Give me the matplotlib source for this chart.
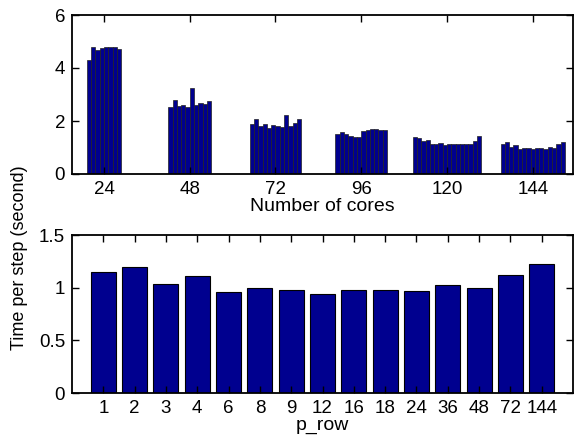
import matplotlib
matplotlib.use("Agg")
import matplotlib.pyplot as plt
import numpy as np

plt.rcParams['font.family'] = ['Liberation Sans', 'DejaVu Sans']

# time per step for every p_row choice, grouped by number of cores
cores = [24, 48, 72, 96, 120, 144]
times_by_cores = [
    [4.30, 4.78, 4.68, 4.76, 4.78, 4.78, 4.78, 4.73],
    [2.51, 2.78, 2.55, 2.61, 2.52, 3.23, 2.61, 2.69, 2.66, 2.74],
    [1.90, 2.09, 1.80, 1.90, 1.72, 1.85, 1.83, 1.79, 2.24, 1.83, 1.94, 2.06],
    [1.52, 1.57, 1.51, 1.43, 1.39, 1.38, 1.61, 1.66, 1.71, 1.70, 1.67, 1.67],
    [1.40, 1.37, 1.25, 1.28, 1.13, 1.13, 1.18, 1.10, 1.13, 1.13, 1.13, 1.13,
     1.15, 1.15, 1.24, 1.44],
    [1.15, 1.19, 1.03, 1.10, 0.95, 1.00, 0.98, 0.93, 0.97, 0.98, 0.96, 1.03,
     1.00, 1.12, 1.22],
]

# 144 cores, per p_row
p_row = ['1', '2', '3', '4', '6', '8', '9', '12', '16', '18', '24', '36', '48', '72', '144']
t144 = [1.152, 1.193, 1.037, 1.107, 0.955, 1.0, 0.98, 0.936, 0.974, 0.98, 0.968,
        1.028, 1.0, 1.124, 1.228]

navy = '#00008f'
fsz = 13.5
lsz = 14

fig = plt.figure(figsize=(5.74, 4.45), dpi=100)

def style(ax):
    for s in ax.spines.values():
        s.set_linewidth(1.3)
    ax.tick_params(direction='in', length=5, width=1, top=True, right=True,
                   labelsize=fsz, pad=5)

# top panel
ax1 = fig.add_axes([72/574, (445-174)/445, (573-72)/574, (174-15)/445])
bw = 0.05
for i, vals in enumerate(times_by_cores):
    n = len(vals)
    x = i + 1 + (np.arange(n) - (n - 1) / 2) * bw
    ax1.bar(x, vals, width=bw, color=navy, edgecolor='#222222', linewidth=0.5)
ax1.set_xlim(0.627, 6.47)
ax1.set_ylim(0, 6)
ax1.set_yticks([0, 2, 4, 6])
ax1.set_xticks(range(1, 7))
ax1.set_xticklabels([str(c) for c in cores])
ax1.set_xlabel('Number of cores', fontsize=lsz, labelpad=0)
style(ax1)

# bottom panel
ax2 = fig.add_axes([72/574, (445-393)/445, (573-72)/574, (393-235)/445])
xb = np.arange(1, len(p_row) + 1)
ax2.bar(xb, t144, width=0.8, color=navy, edgecolor='black', linewidth=0.8)
ax2.set_xlim(0, 16)
ax2.set_ylim(0, 1.5)
ax2.set_yticks([0, 0.5, 1, 1.5])
ax2.set_yticklabels(['0', '0.5', '1', '1.5'])
ax2.set_xticks(xb)
ax2.set_xticklabels(p_row)
ax2.set_xlabel('p_row', fontsize=lsz, labelpad=0)
style(ax2)

fig.text(20/574, 1 - 258/445, 'Time per step (second)', rotation=90,
         ha='center', va='center', fontsize=13)

fig.savefig('out.png', dpi=100)
